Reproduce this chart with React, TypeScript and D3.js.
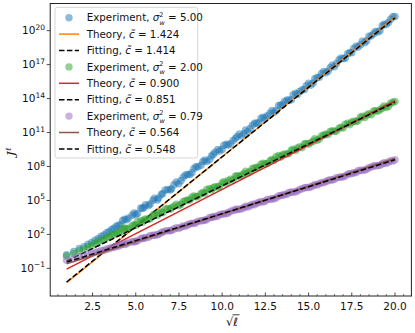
import React from "react";
import * as d3 from "d3";

// integer ell values at which the experiment was sampled (x axis is sqrt(ell))
const ells = [
  1, 2, 3, 4, 5, 6, 7, 8, 9, 10, 11, 12, 13, 14, 15, 16,
  18, 20, 23, 25, 28, 30, 33, 36, 39, 42, 45, 49, 52, 56, 60, 64,
  68, 72, 77, 81, 86, 90, 95, 100, 105, 110, 116, 121, 127, 132, 138, 144,
  150, 156, 163, 169, 176, 182, 189, 196, 203, 210, 218, 225, 233, 240, 248, 256,
  264, 272, 281, 289, 298, 306, 315, 324, 333, 342, 352, 361, 371, 380, 390, 400,
];
const ellsMid = [
  17, 19, 21, 24, 26, 29, 31, 34, 37, 40, 43, 47, 50, 54, 58, 62,
  66, 70, 74, 79, 83, 88, 92, 97, 102, 107, 113, 118, 124, 129, 135, 141,
  147, 153, 159, 166, 172, 179, 185, 192, 199, 206, 214, 221, 229, 236, 244, 252,
  260, 268, 276, 285, 293, 302, 310, 319, 328, 337, 347, 356, 366, 375, 385, 395,
];

// log10 of J^ell
const expSigma500 = [
  0.2, 0.48, 0.76, 0.9, 1.12, 1.29, 1.49, 1.63, 1.83, 1.94, 2.14, 2.25, 2.43, 2.53, 2.71, 2.81,
  3.23, 3.29, 3.7, 3.74, 4.32, 4.38, 4.56, 5.02, 5.05, 5.52, 5.93, 5.93, 6.38, 6.47, 7.04, 7.29,
  7.45, 7.98, 8.11, 8.58, 8.61, 9.07, 9.5, 9.51, 9.97, 10.0, 10.47, 10.86, 10.92, 11.09, 11.65, 11.83,
  12.25, 12.27, 12.7, 12.79, 13.39, 13.46, 13.86, 13.9, 14.46, 14.63, 14.81, 15.35, 15.37, 15.86, 16.22, 16.28,
  16.72, 16.81, 17.43, 17.52, 17.96, 18.05, 18.62, 18.76, 18.94, 19.5, 19.72, 19.89, 20.44, 20.55, 21.0, 21.25,
];
const expSigma500Mid = [
  2.85, 3.33, 3.45, 3.89, 3.85, 4.3, 4.61, 4.69, 5.19, 5.22, 5.61, 5.97, 6.04, 6.62, 6.75, 7.24,
  7.29, 7.82, 7.97, 8.44, 8.44, 8.93, 9.26, 9.37, 9.87, 9.89, 10.29, 10.65, 10.69, 11.23, 11.35, 11.82,
  11.85, 12.35, 12.49, 12.95, 12.93, 13.4, 13.74, 13.84, 14.34, 14.37, 14.77, 15.14, 15.19, 15.75, 15.88, 16.38,
  16.42, 16.94, 17.09, 17.57, 17.57, 18.07, 18.42, 18.55, 19.07, 19.11, 19.54, 19.92, 19.99, 20.57, 20.72, 21.23,
];
const expSigma200 = [
  0.08, 0.3, 0.55, 0.68, 0.91, 1.02, 1.21, 1.3, 1.48, 1.55, 1.72, 1.78, 1.94, 1.99, 2.13, 2.18,
  2.48, 2.49, 2.77, 2.8, 3.21, 3.27, 3.35, 3.69, 3.67, 4.0, 4.25, 4.23, 4.48, 4.53, 4.91, 5.04,
  5.29, 5.32, 5.6, 5.65, 6.06, 6.12, 6.2, 6.54, 6.53, 6.88, 7.13, 7.13, 7.38, 7.43, 7.81, 7.94,
  8.19, 8.22, 8.5, 8.55, 8.96, 9.02, 9.1, 9.44, 9.42, 9.75, 10.0, 9.98, 10.24, 10.31, 10.69, 10.84,
  11.08, 11.09, 11.37, 11.4, 11.82, 11.9, 11.98, 12.34, 12.32, 12.65, 12.9, 12.88, 13.14, 13.21, 13.59, 13.74,
];
const expSigma200Mid = [
  2.23, 2.56, 2.54, 2.86, 3.11, 3.08, 3.36, 3.4, 3.78, 3.89, 3.92, 4.28, 4.35, 4.67, 4.65, 4.97,
  5.04, 5.38, 5.37, 5.71, 5.96, 5.93, 6.21, 6.25, 6.64, 6.76, 6.8, 7.18, 7.25, 7.57, 7.55, 7.87,
  7.94, 8.28, 8.27, 8.61, 8.86, 8.83, 9.11, 9.15, 9.53, 9.64, 9.67, 10.03, 10.11, 10.44, 10.43, 10.77,
  10.83, 11.16, 11.14, 11.46, 11.72, 11.7, 11.99, 12.05, 12.43, 12.54, 12.57, 12.93, 13.01, 13.34, 13.33, 13.67,
];
const expSigma079 = [
  -0.28, -0.15, 0.03, 0.1, 0.25, 0.3, 0.43, 0.46, 0.57, 0.59, 0.71, 0.73, 0.84, 0.85, 0.95, 0.97,
  1.14, 1.17, 1.34, 1.38, 1.61, 1.66, 1.74, 1.93, 1.96, 2.15, 2.3, 2.32, 2.47, 2.53, 2.74, 2.84,
  2.99, 3.03, 3.2, 3.25, 3.48, 3.53, 3.61, 3.81, 3.84, 4.04, 4.19, 4.22, 4.37, 4.43, 4.65, 4.75,
  4.9, 4.94, 5.11, 5.16, 5.39, 5.46, 5.54, 5.74, 5.77, 5.97, 6.12, 6.15, 6.3, 6.36, 6.58, 6.68,
  6.83, 6.87, 7.04, 7.09, 7.32, 7.38, 7.46, 7.66, 7.69, 7.89, 8.04, 8.07, 8.22, 8.28, 8.5, 8.6,
];
const expSigma079Mid = [
  1.07, 1.11, 1.31, 1.36, 1.44, 1.65, 1.72, 1.89, 1.92, 2.02, 2.22, 2.32, 2.37, 2.58, 2.64, 2.72,
  2.91, 2.96, 3.17, 3.22, 3.31, 3.52, 3.59, 3.76, 3.8, 3.9, 4.11, 4.21, 4.27, 4.48, 4.54, 4.63,
  4.82, 4.87, 5.08, 5.13, 5.22, 5.44, 5.52, 5.69, 5.73, 5.83, 6.04, 6.14, 6.2, 6.41, 6.47, 6.56,
  6.75, 6.8, 7.01, 7.06, 7.15, 7.36, 7.44, 7.61, 7.65, 7.75, 7.96, 8.06, 8.12, 8.33, 8.39, 8.48,
];

const sigmaLabels = ["5.00", "2.00", "0.79"];
const theoryC = [1.424, 0.9, 0.564];
const fitC = [1.414, 0.851, 0.548];
// log10 J at sqrt(ell) = 1 for the theory / fitted lines
const theoryStart = [-2.27, -1.06, -0.6];
const fitStart = [-2.2, -0.36, -0.45];

const expColors = ["#1f77b4", "#2ca02c", "#9467bd"];
const theoryColors = ["#ff7f0e", "#d62728", "#8c564b"];

const yTickExps = [-1, 2, 5, 8, 11, 14, 17, 20];
const xTicks = [2.5, 5, 7.5, 10, 12.5, 15, 17.5, 20];

const W = 415;
const H = 333;
const left = 50.2, right = 411.4, top = 3.5, bottom = 296;
const font = "DejaVu Sans";

export default function App() {
  const x = d3.scaleLinear().domain([0.05, 20.95]).range([left, right]);
  const y = d3.scaleLog().domain([10 ** -3.44, 10 ** 22.4]).range([bottom, top]);

  // merge the two sampling sets and sort by ell so points are drawn in order
  const makeSeries = (main: number[], mid: number[]) =>
    [...ells.map((l, i) => [l, main[i]]), ...ellsMid.map((l, i) => [l, mid[i]])].sort((a, b) => a[0] - b[0]);
  const series = [
    makeSeries(expSigma500, expSigma500Mid),
    makeSeries(expSigma200, expSigma200Mid),
    makeSeries(expSigma079, expSigma079Mid),
  ];

  const straight = (start: number, c: number) => {
    // J ~ exp(2 c sqrt(ell)): straight on log-y vs sqrt(ell)
    const slope = (2 * c) / Math.LN10;
    const pts: [number, number][] = [1, 20].map((s) => [x(s), y(10 ** (start + slope * (s - 1)))]);
    return d3.line()(pts) as string;
  };

  const minorX = d3.range(0.5, 20.9, 0.5).filter((v) => Math.abs(v / 2.5 - Math.round(v / 2.5)) > 1e-6);

  const legendRows = [17.7, 34.1, 50.5, 66.9, 83.3, 99.7, 116.1, 132.5, 148.9];

  return (
    <svg width={W} height={H} style={{ position: "absolute", left: 0, top: 0 }} fontFamily={font}>
      <rect width={W} height={H} fill="#fff" />
      <defs>
        <clipPath id="plot">
          <rect x={left} y={top} width={right - left} height={bottom - top} />
        </clipPath>
      </defs>

      <g clipPath="url(#plot)">
        {series.map((pts, si) => (
          <g key={si}>
            {pts.map(([l, v], i) => (
              <circle key={i} cx={x(Math.sqrt(l))} cy={y(10 ** v)} r={3.8} fill={expColors[si]} fillOpacity={0.5} />
            ))}
            <path d={straight(theoryStart[si], theoryC[si])} stroke={theoryColors[si]} strokeWidth={1.5} fill="none" />
            <path
              d={straight(fitStart[si], fitC[si])}
              stroke="#000"
              strokeWidth={1.5}
              strokeDasharray="5.5,2.4"
              fill="none"
            />
          </g>
        ))}
      </g>

      {/* axes frame */}
      <rect x={left} y={top} width={right - left} height={bottom - top} fill="none" stroke="#222" strokeWidth={1} />

      {/* x ticks (inward) */}
      {minorX.map((v) => (
        <line key={"m" + v} x1={x(v)} x2={x(v)} y1={bottom} y2={bottom - 2} stroke="#222" strokeWidth={0.6} />
      ))}
      {xTicks.map((v) => (
        <g key={v}>
          <line x1={x(v)} x2={x(v)} y1={bottom} y2={bottom - 3.5} stroke="#222" strokeWidth={0.8} />
          <text x={x(v)} y={309.5} fontSize={10.5} textAnchor="middle" fill="#111">
            {v.toFixed(1)}
          </text>
        </g>
      ))}

      {/* y ticks (outward) */}
      {yTickExps.map((e) => (
        <g key={e}>
          <line x1={left - 3.5} x2={left} y1={y(10 ** e)} y2={y(10 ** e)} stroke="#222" strokeWidth={0.8} />
          <text x={45} y={y(10 ** e) + 3.5} fontSize={10.5} textAnchor="end" fill="#111">
            10
            <tspan fontSize={7.5} dy={-4.5}>
              {e < 0 ? "\u2212" + Math.abs(e) : String(e)}
            </tspan>
          </text>
        </g>
      ))}

      {/* axis labels */}
      <text x={226} y={325.5} fontSize={11.5} fill="#111">
        √<tspan fontStyle="italic">ℓ</tspan>
      </text>
      <line x1={232.5} x2={239.5} y1={314.8} y2={314.8} stroke="#111" strokeWidth={0.8} />
      <text
        transform="translate(15,152) rotate(-90)"
        fontSize={11.5}
        textAnchor="middle"
        fontFamily="DejaVu Serif"
        fontStyle="italic"
        fill="#111"
      >
        J<tspan fontSize={8} dy={-4.5}>ℓ</tspan>
      </text>

      {/* legend */}
      <rect x={55} y={7.3} width={142.7} height={150.7} rx={2.5} fill="#fff" fillOpacity={0.8} stroke="#ccc" strokeWidth={0.8} />
      {[0, 1, 2].map((si) => {
        const r0 = legendRows[si * 3];
        const r1 = legendRows[si * 3 + 1];
        const r2 = legendRows[si * 3 + 2];
        return (
          <g key={si} fontSize={10.3} fill="#111">
            <circle cx={69} cy={r0} r={3.7} fill={expColors[si]} fillOpacity={0.5} />
            <text x={86.7} y={r0 + 3.6}>
              {"Experiment, "}
              <tspan fontStyle="italic">σ</tspan>
              <tspan fontSize={6.5} dy={-4.8}>2</tspan>
              <tspan fontSize={6.5} fontStyle="italic" dx={-4} dy={8}>w</tspan>
              <tspan dy={-3.2}>{" = " + sigmaLabels[si]}</tspan>
            </text>

            <line x1={59} x2={79} y1={r1} y2={r1} stroke={theoryColors[si]} strokeWidth={1.5} />
            <text x={86.7} y={r1 + 3.6}>
              {"Theory, "}
              <tspan fontStyle="italic">{"c\u0303"}</tspan>
              {" = " + theoryC[si].toFixed(3)}
            </text>

            <line x1={59} x2={79} y1={r2} y2={r2} stroke="#000" strokeWidth={1.5} strokeDasharray="5.5,2.4" />
            <text x={86.7} y={r2 + 3.6}>
              {"Fitting, "}
              <tspan fontStyle="italic">{"c\u0303"}</tspan>
              {" = " + fitC[si].toFixed(3)}
            </text>
          </g>
        );
      })}
    </svg>
  );
}
